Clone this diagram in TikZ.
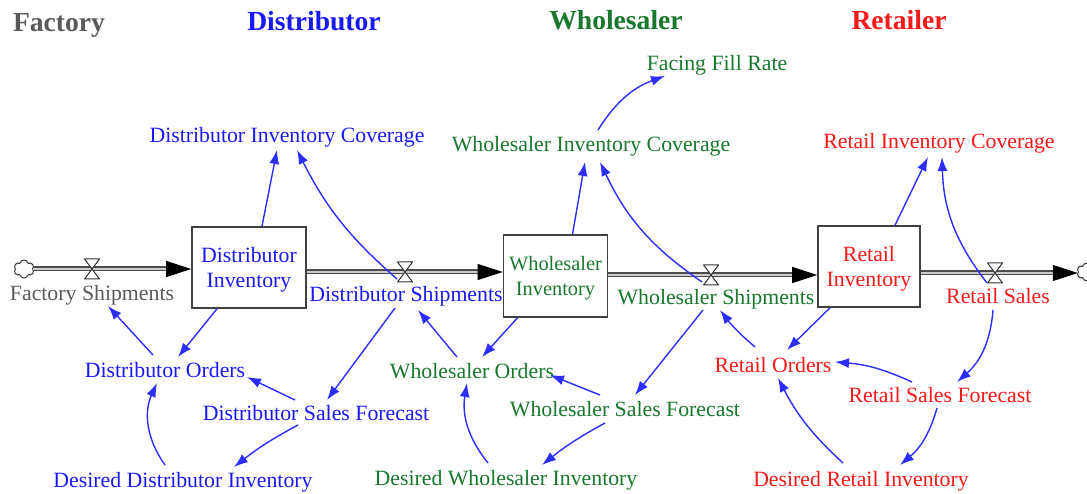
\documentclass[tikz,border=0pt]{standalone}
\usepackage{fontspec}
\setmainfont{Liberation Serif}
\usetikzlibrary{arrows.meta,shapes.symbols,calc}

\definecolor{dblue}{RGB}{25,25,245}
\definecolor{wgreen}{RGB}{25,120,45}
\definecolor{rred}{RGB}{250,25,25}
\definecolor{fgray}{RGB}{90,90,90}
\definecolor{linkblue}{RGB}{45,45,255}

\tikzset{
  valve/.pic={
    \draw[black!80, line width=1pt, fill=white, line join=round]
      (-7.5,-10) -- (7.5,-10) -- (0,0) -- cycle
      (-7.5,10) -- (7.5,10) -- (0,0) -- cycle;
  }
}

\begin{document}
\begin{tikzpicture}[x=1pt,y=-1pt,
  lbl/.style={inner sep=0pt, text height=14.4pt, text depth=0pt,
    font=\fontsize{21.8}{25}\selectfont},
  heading/.style={inner sep=0pt, text height=18.5pt, text depth=0pt,
    font=\fontsize{27.6}{30}\selectfont\bfseries},
  stock/.style={draw=black!75, line width=1.6pt, fill=white, inner sep=0pt,
    align=center, text height=39.4pt, text depth=0pt,
    font=\fontsize{21.8}{25}\selectfont},
  pipe/.style={draw=black!70, line width=1.1pt, double=gray!40, double distance=2.8pt},
  pipetip/.style={-{Triangle[length=25pt,width=16pt]}, black, line width=1pt},
  link/.style={draw=linkblue, line width=1.4pt, -{Latex[length=14pt,width=10pt]}},
  cloudy/.style={cloud, cloud puffs=6, draw=black!80, line width=1pt, fill=white,
    minimum width=20pt, minimum height=18pt, inner sep=0pt}
]
\fill[white] (0,0) rectangle (1087,494);
\useasboundingbox (0,0) rectangle (1087,494);

% sector headings
\node[heading, text=fgray]  (tf) at (59,22)  {Factory};
\node[heading, text=dblue]  (td) at (314,21) {Distributor};
\node[heading, text=wgreen] (tw) at (616,20) {Wholesaler};
\node[heading, text=rred]   (tr) at (899,20) {Retailer};

% valves on the material chain
\coordinate (v1) at (92,269);
\coordinate (v2) at (405,272);
\coordinate (v3) at (711,275);
\coordinate (v4) at (995,273);

% source and sink
\node[cloudy] (src) at (24,269) {};
\node[cloudy] (snk) at (1087,272) {};

% stocks
\node[stock, text=dblue, minimum width=114pt, minimum height=81pt] (di) at (249,267.5) {Distributor\\Inventory};
\node[stock, text=wgreen, minimum width=104pt, minimum height=82pt,
  font=\fontsize{20.4}{25}\selectfont] (wi) at (555.5,276) {Wholesaler\\Inventory};
\node[stock, text=rred, minimum width=102pt, minimum height=81pt] (ri) at (869,266.5) {Retail\\Inventory};

% pipe end points
\coordinate (p1e) at (v1 -| di.west);
\coordinate (p2e) at (v2 -| wi.west);
\coordinate (p3e) at (v3 -| ri.west);
\coordinate (p4e) at (v4 -| snk.west);

% pipes
\draw[pipe] (src.east |- v1) -- ([xshift=-22pt]p1e);
\draw[pipetip] ([xshift=-24pt]p1e) -- (p1e);
\draw[pipe] (di.east |- v2) -- ([xshift=-22pt]p2e);
\draw[pipetip] ([xshift=-24pt]p2e) -- (p2e);
\draw[pipe] (wi.east |- v3) -- ([xshift=-22pt]p3e);
\draw[pipetip] ([xshift=-24pt]p3e) -- (p3e);
\draw[pipe] (ri.east |- v4) -- ([xshift=-22pt]p4e);
\draw[pipetip] ([xshift=-24pt]p4e) -- (p4e);

\pic at (v1) {valve};
\pic at (v2) {valve};
\pic at (v3) {valve};
\pic at (v4) {valve};

% flow names
\node[lbl, text=fgray]  (fs) at (92,293)  {Factory Shipments};
\node[lbl, text=dblue]  (ds) at (406,294) {Distributor Shipments};
\node[lbl, text=wgreen] (ws) at (716,297) {Wholesaler Shipments};
\node[lbl, text=rred]   (rs) at (998,296) {Retail Sales};

% auxiliaries
\node[lbl, text=dblue]  (dcov) at (287,135) {Distributor Inventory Coverage};
\node[lbl, text=wgreen] (wcov) at (591,144) {Wholesaler Inventory Coverage};
\node[lbl, text=wgreen] (ffr)  at (717,63)  {Facing Fill Rate};
\node[lbl, text=rred]   (rcov) at (939,141) {Retail Inventory Coverage};
\node[lbl, text=dblue]  (dord) at (165,370) {Distributor Orders};
\node[lbl, text=dblue]  (dsf)  at (316,413) {Distributor Sales Forecast};
\node[lbl, text=dblue]  (ddi)  at (183,480) {Desired Distributor Inventory};
\node[lbl, text=wgreen] (word) at (472,371) {Wholesaler Orders};
\node[lbl, text=wgreen] (wsf)  at (625,409) {Wholesaler Sales Forecast};
\node[lbl, text=wgreen] (dwi)  at (506,478) {Desired Wholesaler Inventory};
\node[lbl, text=rred]   (rord) at (773,365) {Retail Orders};
\node[lbl, text=rred]   (rsf)  at (940,395) {Retail Sales Forecast};
\node[lbl, text=rred]   (dri)  at (861,479) {Desired Retail Inventory};

% causal links: distributor
\draw[link] ([xshift=13pt]di.north) -- ([shift={(-10,15)}]dcov.center);
\draw[link] ([shift={(-8,7)}]v2) to[bend left=11] ([shift={(10,15)}]dcov.center);
\draw[link] ([xshift=-32pt]di.south) -- ([shift={(13,-13)}]dord.center);
\draw[link] ([shift={(-12,-15)}]dord.center) -- ([shift={(16,13)}]fs.center);
\draw[link] ([shift={(-18,-15)}]ddi.center) to[bend left=30] ([shift={(-8,13)}]dord.center);
\draw[link] ([shift={(-21,-13)}]dsf.center) -- ([shift={(82,7)}]dord.center);
\draw[link] ([shift={(-18,12)}]dsf.center) to[bend right=5] ([shift={(51,-13)}]ddi.center);
\draw[link] ([shift={(-11,14)}]ds.center) -- ([shift={(11,-13)}]dsf.center);

% causal links: wholesaler
\draw[link] ([shift={(-15,-14)}]word.center) -- ([shift={(12,16)}]ds.center);
\draw[link] ([xshift=17pt]wi.north) -- ([shift={(-6,18)}]wcov.center);
\draw[link] ([shift={(-9,7)}]v3) to[bend left=15] ([shift={(9,18)}]wcov.center);
\draw[link] ([shift={(7,-14)}]wcov.center) to[bend left=19] ([shift={(-52,13)}]ffr.center);
\draw[link] ([xshift=-38pt]wi.south) -- ([shift={(10,-14)}]word.center);
\draw[link] ([shift={(-18,-15)}]dwi.center) to[bend left=24] ([shift={(-5,12)}]word.center);
\draw[link] ([shift={(-25,-14)}]wsf.center) -- ([shift={(78,4)}]word.center);
\draw[link] ([shift={(-20,14)}]wsf.center) to[bend right=5] ([shift={(36,-13)}]dwi.center);
\draw[link] ([shift={(-13,13)}]ws.center) -- ([shift={(10,-14)}]wsf.center);

% causal links: retailer
\draw[link] ([shift={(-18,-18)}]rord.center) to[bend left=6] ([shift={(4,13)}]ws.center);
\draw[link] ([xshift=26pt]ri.north) -- ([shift={(-11,16)}]rcov.center);
\draw[link] ([shift={(-8,10)}]v4) to[bend left=18] ([shift={(3,16)}]rcov.center);
\draw[link] ([xshift=-39pt]ri.south) -- ([shift={(14,-15)}]rord.center);
\draw[link] ([shift={(-5,14)}]rs.center) to[bend left=22] ([shift={(17,-13)}]rsf.center);
\draw[link] ([shift={(-28,-13)}]rsf.center) to[bend right=10] ([shift={(62,-3)}]rord.center);
\draw[link] ([shift={(-3,13)}]rsf.center) to[bend left=17] ([shift={(39,-14)}]dri.center);
\draw[link] ([shift={(-18,-16)}]dri.center) to[bend left=10] ([shift={(5,13)}]rord.center);
\end{tikzpicture}
\end{document}
